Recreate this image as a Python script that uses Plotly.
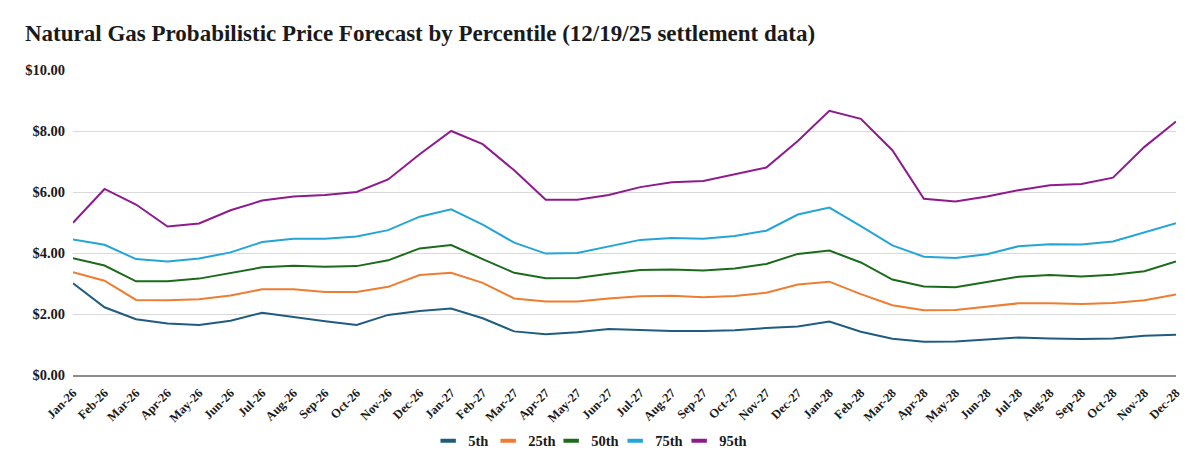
import plotly.graph_objects as go

months = ["Jan-26", "Feb-26", "Mar-26", "Apr-26", "May-26", "Jun-26", "Jul-26", "Aug-26", "Sep-26", "Oct-26", "Nov-26", "Dec-26",
          "Jan-27", "Feb-27", "Mar-27", "Apr-27", "May-27", "Jun-27", "Jul-27", "Aug-27", "Sep-27", "Oct-27", "Nov-27", "Dec-27",
          "Jan-28", "Feb-28", "Mar-28", "Apr-28", "May-28", "Jun-28", "Jul-28", "Aug-28", "Sep-28", "Oct-28", "Nov-28", "Dec-28"]

p5 = [3.01, 2.22, 1.83, 1.69, 1.64, 1.78, 2.04, 1.89, 1.76, 1.64, 1.97, 2.10,
      2.18, 1.86, 1.43, 1.34, 1.40, 1.51, 1.47, 1.44, 1.44, 1.47, 1.54, 1.59,
      1.75, 1.42, 1.19, 1.09, 1.10, 1.17, 1.23, 1.20, 1.18, 1.20, 1.29, 1.32]
p25 = [3.37, 3.09, 2.46, 2.45, 2.48, 2.61, 2.81, 2.81, 2.72, 2.72, 2.89, 3.28,
       3.35, 3.02, 2.51, 2.41, 2.41, 2.51, 2.58, 2.60, 2.55, 2.59, 2.70, 2.97,
       3.06, 2.65, 2.29, 2.12, 2.13, 2.25, 2.35, 2.35, 2.33, 2.36, 2.45, 2.64]
p50 = [3.83, 3.59, 3.07, 3.07, 3.16, 3.35, 3.53, 3.58, 3.55, 3.57, 3.76, 4.15,
       4.26, 3.80, 3.35, 3.17, 3.18, 3.32, 3.44, 3.46, 3.43, 3.49, 3.64, 3.97,
       4.08, 3.69, 3.13, 2.90, 2.88, 3.05, 3.22, 3.28, 3.23, 3.29, 3.40, 3.72]
p75 = [4.44, 4.27, 3.80, 3.72, 3.82, 4.02, 4.36, 4.47, 4.47, 4.54, 4.75, 5.19,
       5.43, 4.93, 4.34, 3.98, 4.00, 4.22, 4.43, 4.49, 4.47, 4.56, 4.73, 5.26,
       5.49, 4.88, 4.25, 3.88, 3.84, 3.96, 4.22, 4.29, 4.28, 4.38, 4.69, 4.98]
p95 = [4.99, 6.10, 5.59, 4.87, 4.97, 5.40, 5.72, 5.85, 5.90, 6.00, 6.41, 7.24,
       8.00, 7.57, 6.71, 5.75, 5.75, 5.90, 6.16, 6.32, 6.36, 6.57, 6.80, 7.67,
       8.66, 8.40, 7.37, 5.78, 5.69, 5.85, 6.06, 6.22, 6.26, 6.47, 7.48, 8.31]

series_names = ["5th", "25th", "50th", "75th", "95th"]
series_values = [p5, p25, p50, p75, p95]
colors = ["#1F5C80", "#EE7D31", "#1C6B1C", "#24A5D6", "#8E1B8E"]

y_ticks = [0, 2, 4, 6, 8, 10]
y_labels = ["$0.00", "$2.00", "$4.00", "$6.00", "$8.00", "$10.00"]

FONT = "Liberation Serif"
TXT = "#1a1a1a"

# page body adds an 8px offset; size the figure so the visible area matches 1200x472
W, H = 1192, 464

fig = go.Figure()
for name, vals, col in zip(series_names, series_values, colors):
    fig.add_trace(go.Scatter(x=months, y=vals, mode="lines", name=name,
                             line=dict(color=col, width=2), showlegend=False,
                             hovertemplate="%{x}: $%{y:.2f}<extra>" + name + "</extra>"))
# legend entries with short thick markers
legend_widths = [15, 18, 19, 19, 30]
for name, col, lw in zip(series_names, colors, legend_widths):
    fig.add_trace(go.Scatter(x=[None], y=[None], mode="markers", name="<b>" + name + "</b>",
                             marker=dict(symbol="line-ew", size=11, color=col,
                                         line=dict(color=col, width=4)),
                             legendwidth=lw, showlegend=True))

fig.update_layout(
    width=W, height=H,
    margin=dict(l=65, r=24, t=62, b=97),
    paper_bgcolor="white", plot_bgcolor="white",
    font=dict(family=FONT, color=TXT),
    title=dict(text="<b>Natural Gas Probabilistic Price Forecast by Percentile (12/19/25 settlement data)</b>",
               font=dict(family=FONT, size=23, color=TXT),
               x=17 / W, xanchor="left", xref="container",
               y=1 - 25 / H, yanchor="middle", yref="container"),
    xaxis=dict(type="category", categoryorder="array", categoryarray=months,
               tickangle=-45, tickfont=dict(family=FONT, size=12.5, color=TXT),
               showgrid=False, showline=True, linecolor="#8c8c8c", linewidth=1.5,
               ticks="outside", ticklen=4, tickcolor="rgba(0,0,0,0)", zeroline=False,
               tickprefix="<b>", ticksuffix="</b>"),
    yaxis=dict(range=[0, 10], tickvals=y_ticks, ticktext=["<b>" + t + "</b>" for t in y_labels],
               tickfont=dict(family=FONT, size=14.5, color=TXT),
               showgrid=True, gridcolor="#d9d9d9", gridwidth=1,
               zeroline=False, showline=False, ticks="outside", ticklen=4, tickcolor="rgba(0,0,0,0)"),
    legend=dict(orientation="h", x=0.322, xanchor="left", y=-0.216, yanchor="middle",
                font=dict(family=FONT, size=14.5, color=TXT), itemwidth=30,
                itemclick=False, itemdoubleclick=False),
    showlegend=True,
)

fig.write_html("out.html")
